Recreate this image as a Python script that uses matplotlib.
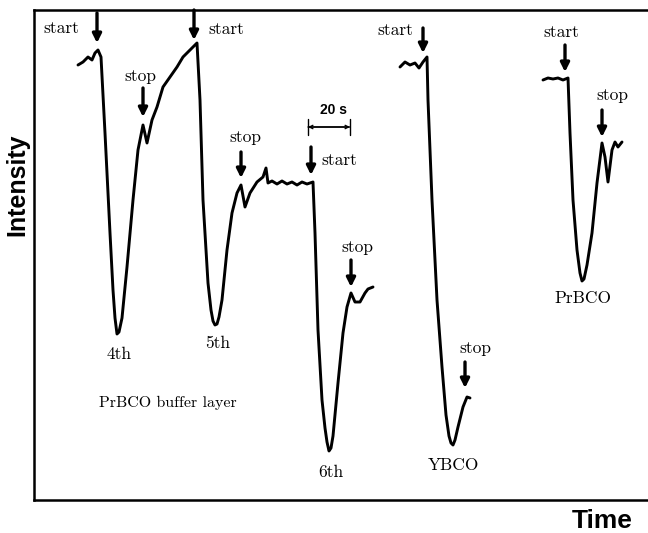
import matplotlib.pyplot as plt

plt.rcParams['axes.formatter.use_mathtext'] = True

""" traces read off the figure (time and intensity in arbitrary units) """

# PrBCO buffer layer: 4th, 5th and 6th deposition, one continuous record
buffer_time = [78, 83, 88, 92, 95, 98, 101, 105, 110, 113, 115, 117, 119, 122, 127,
               133, 138, 143, 147, 152, 157, 163, 170, 177, 183, 190, 197, 200, 203,
               208, 211, 213, 215, 217, 219, 222, 227, 232, 237, 241, 245, 250, 257,
               263, 266, 268, 272, 277, 282, 287, 292, 297, 302, 307, 310, 313, 315,
               318, 322, 325, 327, 329, 331, 333, 338, 343, 347, 351, 355, 360, 365,
               368, 373]
buffer_int = [435, 438, 443, 440, 447, 450, 443, 367, 267, 210, 182, 166, 168, 182, 233,
              300, 350, 375, 357, 380, 393, 413, 423, 433, 443, 450, 457, 400, 300,
              217, 190, 179, 175, 176, 183, 200, 250, 287, 307, 315, 293, 307, 318,
              323, 332, 317, 319, 316, 319, 316, 318, 315, 318, 316, 317, 318, 267,
              170, 100, 72, 58, 49, 52, 64, 117, 167, 193, 207, 198, 198, 207,
              211, 213]

# YBCO
ybco_time = [400, 405, 410, 415, 419, 423, 427, 428, 432, 437, 442, 446, 449, 451,
             453, 455, 458, 463, 467, 470]
ybco_int = [433, 438, 435, 437, 432, 438, 443, 400, 300, 200, 133, 85, 64, 57,
            55, 60, 73, 93, 103, 102]

# PrBCO
prbco_time = [543, 548, 553, 558, 563, 568, 570, 573, 577, 580, 582, 584, 587, 592,
              597, 602, 605, 608, 612, 615, 618, 622]
prbco_int = [420, 422, 421, 422, 420, 422, 367, 300, 250, 227, 219, 221, 235, 267,
             317, 357, 343, 318, 350, 358, 353, 358]

# start / stop markers: (label, time, arrow tail, arrow tip, label time, label height)
markers = [
    ('start', 97, 487, 457, 61, 472),
    ('stop', 143, 412, 383, 140, 424),
    ('start', 194, 490, 460, 226, 471),
    ('stop', 241, 348, 322, 245, 363),
    ('start', 311, 353, 325, 339, 340),
    ('stop', 351, 240, 213, 357, 253),
    ('start', 423, 472, 447, 395, 470),
    ('stop', 465, 138, 112, 475, 152),
    ('start', 565, 455, 428, 561, 468),
    ('stop', 602, 390, 363, 612, 405),
]

# sample labels: (text, time, height)
labels = [('4th', 119, 146), ('5th', 218, 157), ('6th', 331, 28),
          ('YBCO', 453, 35), ('PrBCO', 583, 202)]


fig = plt.figure(figsize=(6.48, 5.33), dpi=100)
ax = fig.add_axes([34 / 648, 33 / 533, 1 - 34 / 648, 490 / 533])

for t, y in [(buffer_time, buffer_int), (ybco_time, ybco_int), (prbco_time, prbco_int)]:
    ax.plot(t, y, color='black', lw=2.1, solid_joinstyle='round', solid_capstyle='round')

for text, t, tail, tip, tx, ty in markers:
    ax.annotate('', xy=(t, tip), xytext=(t, tail),
                arrowprops=dict(arrowstyle='-|>', color='black', lw=2.4,
                                mutation_scale=13, shrinkA=0, shrinkB=0))
    ax.text(tx, ty, text, ha='center', va='center', fontsize=12.5, family='cmr10')

for text, t, y in labels:
    ax.text(t, y, text, ha='center', va='center', fontsize=12.5, family='cmr10')

ax.text(168, 97, 'PrBCO buffer layer', ha='center', va='center', fontsize=11.5,
        family='cmr10')

# 20 s scale bar
for style in ['<->', '|-|']:
    ax.annotate('', xy=(350, 373), xytext=(308, 373),
                arrowprops=dict(arrowstyle=style, color='black', lw=1.0,
                                mutation_scale=6, shrinkA=0, shrinkB=0))
ax.text(333, 390, '20 s', ha='center', va='center', fontsize=10, fontweight='bold',
        family='Liberation Sans')

ax.set_xlim(34, 648)
ax.set_ylim(0, 490)
ax.set_xticks([])
ax.set_yticks([])
ax.spines['right'].set_visible(False)
for s in ['left', 'top', 'bottom']:
    ax.spines[s].set_linewidth(1.8)

fig.text(17 / 648, 1 - 185 / 533, 'Intensity', rotation=90, ha='center', va='center',
         fontsize=18, fontweight='bold', family='Liberation Sans')
fig.text(602 / 648, 1 - 521 / 533, 'Time', ha='center', va='center',
         fontsize=19, fontweight='bold', family='Liberation Sans')

fig.savefig('out.png', dpi=100)
